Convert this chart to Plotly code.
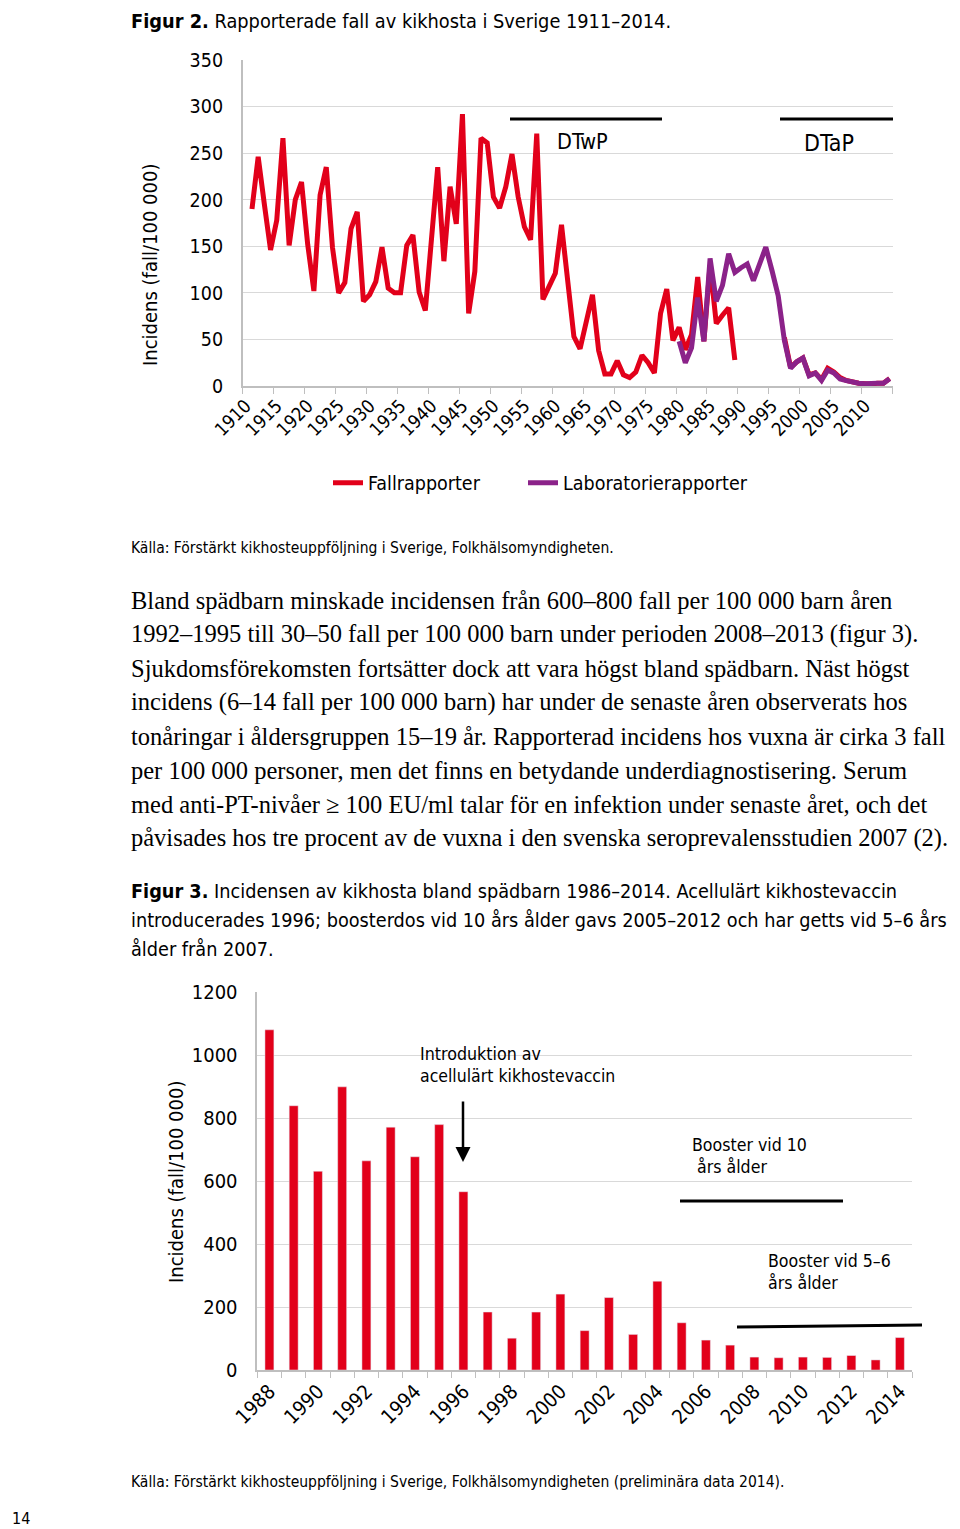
import plotly.graph_objects as go

# ---------------- Data: Figur 2 ----------------
years_fig2 = list(range(1911, 2015))
fall_1911_1989 = [190, 246, 195, 146, 178, 266, 151, 200, 219, 152,
                  102, 205, 235, 149, 100, 111, 169, 187, 91, 98,
                  112, 149, 105, 100, 100, 151, 162, 101, 81, 162,
                  235, 134, 214, 174, 292, 78, 123, 266, 261, 203,
                  191, 214, 249, 203, 171, 157, 271, 93, 107, 121,
                  173, 110, 53, 40, 67, 98, 38, 13, 13, 27,
                  12, 9, 15, 33, 25, 14, 78, 104, 49, 63,
                  39, 55, 117, 48, 130, 67, 76, 84, 28]
fall_1990_1996 = [None] * 7
fall_1997_2014 = [52, 20, 26, 30, 12, 14, 7, 19, 15, 9, 6, 4, 3, 2.5, 2, 3, 3, 8]
fallrapporter = fall_1911_1989 + fall_1990_1996 + fall_1997_2014

years_lab = list(range(1980, 2015))
laboratorierapporter = [48, 25, 41, 95, 48, 137, 91, 108, 142, 122,
                        127, 131, 113, 131, 149, 124, 97, 49, 19, 26,
                        30, 11, 14, 6, 17, 14, 7.5, 5.7, 3.6, 2.9,
                        2.5, 2.1, 2.9, 2.9, 7.9]

fig2_xtick_years = list(range(1910, 2011, 5))

# ---------------- Data: Figur 3 ----------------
years_fig3 = list(range(1988, 2015))
spadbarn_incidens = [1080, 839, 631, 899, 664, 771, 677, 779, 566, 184,
                     101, 184, 241, 125, 230, 113, 282, 150, 95, 79,
                     41, 39, 41, 40, 46, 32, 103]
fig3_xtick_years = list(range(1988, 2015, 2))

# ---------------- Layout helpers ----------------
W, H = 960, 1529
OFF = 8  # page body margin in the browser
def px(x):
    return (x - OFF) / W
def py(y):
    return 1 - (y - OFF) / H

SANS = "DejaVu Sans Condensed, DejaVu Sans, sans-serif"
SERIF = "Liberation Serif, Times New Roman, serif"
RED = "#e2001a"
PURPLE = "#8b2289"
GRID = "#d9d9d9"
AXIS = "#bfbfbf"

fig = go.Figure()

fig.add_trace(go.Scatter(
    x=years_fig2, y=fallrapporter, name="Fallrapporter", mode="lines",
    line=dict(color=RED, width=5), connectgaps=False,
    xaxis="x", yaxis="y", legend="legend"))
fig.add_trace(go.Scatter(
    x=years_lab, y=laboratorierapporter, name="Laboratorierapporter", mode="lines",
    line=dict(color=PURPLE, width=5),
    xaxis="x", yaxis="y", legend="legend2"))

fig.add_trace(go.Bar(
    x=years_fig3, y=spadbarn_incidens, marker_color=RED, showlegend=False,
    xaxis="x2", yaxis="y2"))

leg_common = dict(orientation="h", xanchor="left", yanchor="middle",
                  font=dict(size=19.5, family=SANS), bgcolor="rgba(0,0,0,0)",
                  itemclick=False)

layout = dict(
    width=W, height=H,
    margin=dict(l=0, r=0, t=0, b=0, autoexpand=False),
    paper_bgcolor="white", plot_bgcolor="white",
    font=dict(family=SANS, color="black"),
    bargap=0.63,
    showlegend=True,
    legend=dict(x=px(328), y=py(483), **leg_common),
    legend2=dict(x=px(523), y=py(483), **leg_common),
    xaxis=dict(domain=[px(242.7), px(892.7)], range=[1909.5, 2014.5], anchor="y",
               automargin=False,
               tickmode="array", tickvals=fig2_xtick_years,
               ticktext=[str(v) for v in fig2_xtick_years],
               tickangle=-45, ticks="", showgrid=False, zeroline=False,
               showline=True, linecolor=AXIS, linewidth=1.5,
               tickfont=dict(size=18.5),
               minor=dict(tickmode="linear", tick0=1909.5, dtick=5, ticks="outside",
                          ticklen=6, tickcolor=AXIS, tickwidth=1.3, showgrid=False)),
    yaxis=dict(domain=[py(386), py(60)], range=[0, 350], dtick=50, anchor="x",
               automargin=False,
               showgrid=True, gridcolor=GRID, gridwidth=1.3, zeroline=False,
               showline=True, linecolor=AXIS, linewidth=1.5, ticks="",
               tickfont=dict(size=19.5), ticklabelstandoff=14),
    xaxis2=dict(domain=[px(257.3), px(912)], range=[1987.5, 2014.5], anchor="y2",
                automargin=False,
                tickmode="array", tickvals=fig3_xtick_years,
                ticktext=[str(v) for v in fig3_xtick_years],
                tickangle=-45, ticks="", showgrid=False, zeroline=False,
                showline=True, linecolor=AXIS, linewidth=1.5,
                tickfont=dict(size=20),
                minor=dict(tickmode="linear", tick0=1987.5, dtick=1, ticks="outside",
                           ticklen=6, tickcolor=AXIS, tickwidth=1.3, showgrid=False)),
    yaxis2=dict(domain=[py(1370), py(992)], range=[0, 1200], dtick=200, anchor="x2",
                automargin=False,
                showgrid=True, gridcolor=GRID, gridwidth=1.3, zeroline=False,
                showline=True, linecolor=AXIS, linewidth=1.5, ticks="",
                tickfont=dict(size=20), ticklabelstandoff=14),
)
fig.update_layout(**layout)

def text(x, y, s, size, family=SANS, xanchor="left", angle=0, yanchor="middle"):
    if xanchor == "left":
        x = x - 2  # compensate annotation padding
    fig.add_annotation(x=px(x), y=py(y), xref="paper", yref="paper", text=s,
                       showarrow=False, xanchor=xanchor, yanchor=yanchor,
                       textangle=angle, font=dict(size=size, family=family, color="black"))

def hline(x0, y0, x1, y1, width=3):
    fig.add_shape(type="line", xref="paper", yref="paper",
                  x0=px(x0), y0=py(y0), x1=px(x1), y1=py(y1),
                  line=dict(color="black", width=width))

# Figur 2 texts
text(131, 8, "<b>Figur 2.</b> Rapporterade fall av kikhosta i Sverige 1911–2014.", 19.8,
     yanchor="top")
text(150, 265, "Incidens (fall/100 000)", 20, xanchor="center", angle=-90)
hline(510, 119, 662, 119)
hline(780, 119, 893, 119)
text(582, 141, "DTwP", 21.5, xanchor="center")
text(829, 143, "DTaP", 23, xanchor="center")
text(131, 548, "Källa: Förstärkt kikhosteuppföljning i Sverige, Folkhälsomyndigheten.", 15.5)

# Body text
body = [
    "Bland spädbarn minskade incidensen från 600–800 fall per 100 000 barn åren",
    "1992–1995 till 30–50 fall per 100 000 barn under perioden 2008–2013 (figur 3).",
    "Sjukdomsförekomsten fortsätter dock att vara högst bland spädbarn. Näst högst",
    "incidens (6–14 fall per 100 000 barn) har under de senaste åren observerats hos",
    "tonåringar i åldersgruppen 15–19 år. Rapporterad incidens hos vuxna är cirka 3 fall",
    "per 100 000 personer, men det finns en betydande underdiagnostisering. Serum",
    "med anti-PT-nivåer ≥ 100 EU/ml talar för en infektion under senaste året, och det",
    "påvisades hos tre procent av de vuxna i den svenska seroprevalensstudien 2007 (2).",
]
for i, line in enumerate(body):
    text(131, 600 + 34 * i, line, 24.5, family=SERIF)

# Figur 3 caption
cap3 = [
    "<b>Figur 3.</b> Incidensen av kikhosta bland spädbarn 1986–2014. Acellulärt kikhostevaccin",
    "introducerades 1996; boosterdos vid 10 års ålder gavs 2005–2012 och har getts vid 5–6 års",
    "ålder från 2007.",
]
for i, line in enumerate(cap3):
    text(131, 891 + 29 * i, line, 19.7)

text(176, 1182, "Incidens (fall/100 000)", 20, xanchor="center", angle=-90)
text(420, 1054, "Introduktion av", 17.7)
text(420, 1076, "acellulärt kikhostevaccin", 17.5)
fig.add_annotation(x=px(463), y=py(1162), xref="paper", yref="paper", text="",
                   showarrow=True, ax=0, ay=-62, arrowhead=2, arrowsize=1.2,
                   arrowwidth=2.5, arrowcolor="black")
text(692, 1145, "Booster vid 10", 17.6)
text(692, 1167, " års ålder", 17.6)
hline(680, 1201, 843, 1201)
text(768, 1261, "Booster vid 5–6", 17.6)
text(768, 1283, "års ålder", 17.6)
hline(737, 1327, 922, 1325)
text(131, 1482, "Källa: Förstärkt kikhosteuppföljning i Sverige, Folkhälsomyndigheten (preliminära data 2014).", 15.5)
text(12, 1518, "14", 16)

fig.write_html("out.html")
